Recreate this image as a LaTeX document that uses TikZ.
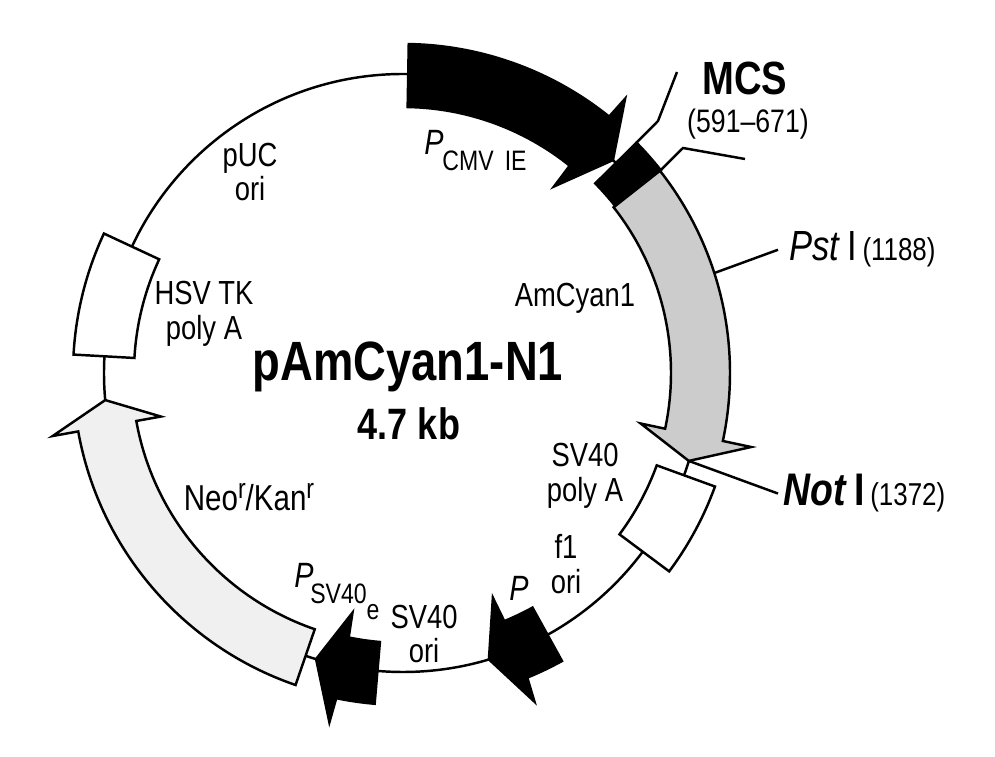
\documentclass[tikz,border=0pt]{standalone}
\usepackage{fontspec}
\setmainfont[FakeStretch=0.82]{Liberation Sans}
\usetikzlibrary{calc}

\tikzset{
    feature/.style = {black, line width=1.4pt, line join=miter},
    lbl/.style = {font=\fontsize{19}{19.8}\selectfont, align=center, inner sep=0pt},
    enzyme/.style = {inner sep=0pt, outer sep=3pt, font=\fontsize{26}{28}\selectfont},
}
\newcommand{\sitepos}[1]{{\fontsize{18}{19}\selectfont\,(#1)}}

\begin{document}
\begin{tikzpicture}[x=0.2mm, y=0.2mm]
    \useasboundingbox (0,0) rectangle (995,757);
    \begin{scope}[shift={(403,384)}]
        \draw[feature] (0,0) circle (299);
        \filldraw[feature] (89:329) arc (89:51.2:329) -- (51:353) -- (45.4:299) -- (51:240) -- (51.2:266) arc (51.2:89:266) -- cycle;
        \filldraw[feature] (44.6:328) arc (44.6:38.2:328) -- (38.2:270) arc (38.2:44.6:270) -- cycle;
        \filldraw[feature, fill=black!20] (38.2:327) arc (38.2:-12:327) -- (-12:356) -- (-17.1:299) -- (-12:243) -- (-12:268) arc (-12:38.2:268) -- cycle;
        \filldraw[feature, fill=white] (-20:332) arc (-20:-36.7:332) -- (-36.7:270) arc (-36.7:-20:270) -- cycle;
        \filldraw[feature] (-61.1:329) arc (-61.1:-67.8:329) -- (-68.2:354) -- (-73.3:299) -- (-68.2:242) -- (-67.8:268) arc (-67.8:-61.1:268) -- cycle;
        \filldraw[feature] (-94.9:332) arc (-94.9:-101.6:332) -- (-101.9:357) -- (-106.9:299) -- (-101.9:245) -- (-101.6:270) arc (-101.6:-94.9:270) -- cycle;
        \filldraw[feature, fill=black!6] (-109:330) arc (-109:-169.8:330) -- (-169.8:356) -- (-174.8:299) -- (-169.8:246) -- (-169.8:271) arc (-169.8:-109:271) -- cycle;
        \filldraw[feature, fill=white] (155:330) arc (155:176.8:330) -- (176.8:269) arc (176.8:155:269) -- cycle;
        \coordinate (mcsa) at (44.6:328);
        \coordinate (mcsb) at (38.2:327);
        \coordinate (psta) at (17.8:327);
        \coordinate (nota) at (-17.1:299);
    \end{scope}

    \coordinate (mcsa1) at (658,636);
    \coordinate (mcsa2) at (677,685);
    \coordinate (mcsb1) at (683,609);
    \coordinate (mcsb2) at (745,598);
    \draw[feature] (mcsa) -- (mcsa1) -- (mcsa2);
    \draw[feature] (mcsb) -- (mcsb1) -- (mcsb2);

    \node[lbl, font=\fontsize{26.5}{28}\selectfont\bfseries] (mcs) at (745,679) {MCS};
    \node[lbl, font=\fontsize{18.5}{20}\selectfont] (mcsrange) at (748,633) {(591--671)};
    \node[enzyme, outer sep=6.5pt, font=\fontsize{24}{26}\selectfont, anchor=base west] (pst) at (778,496) {\textit{Pst}\,I\sitepos{1188}};
    \node[enzyme, anchor=base west] (not) at (778,251) {\textbf{\textit{Not}\,I}\sitepos{1372}};
    \draw[feature] (psta) -- (pst.west);
    \draw[feature] (nota) -- (not.west);

    \node[lbl, font=\fontsize{31.5}{34}\selectfont\bfseries] (name) at (408,390) {pAmCyan1-N1};
    \node[lbl, font=\fontsize{25}{27}\selectfont\bfseries] (size) at (409,333) {4.7 kb};

    \node[lbl, font=\fontsize{20}{22}\selectfont\itshape] (cmv) at (434,615) {P};
    \node[lbl, font=\fontsize{16}{18}\selectfont] (cmvs) at (484.5,596) {CMV\, IE};
    \node[lbl] (puc) at (250,585) {pUC\\ori};
    \node[lbl] (amcyan) at (575,459) {AmCyan1};
    \node[lbl] (hsv) at (204,443) {HSV TK\\poly A};
    \node[lbl] (polya) at (585,281) {SV40\\poly A};
    \node[lbl] (fori) at (566,193) {f1\\ori};
    \node[lbl, font=\fontsize{20}{22}\selectfont\itshape] (plac) at (519,169) {P};
    \node[lbl] (svori) at (424,123) {SV40\\ori};
    \node[lbl, font=\fontsize{20.5}{22}\selectfont] (neo) at (249,260) {Neo\raisebox{7pt}{\fontsize{16}{17}\selectfont r}/Kan\raisebox{7pt}{\fontsize{16}{17}\selectfont r}};
    \node[lbl, font=\fontsize{20}{22}\selectfont\itshape] (psv) at (304,182) {P};
    \node[lbl, font=\fontsize{16}{18}\selectfont] (psvs) at (338.5,163) {SV40};
    \node[lbl, font=\fontsize{16}{18}\selectfont] (psve) at (373,145) {e};
\end{tikzpicture}
\end{document}
